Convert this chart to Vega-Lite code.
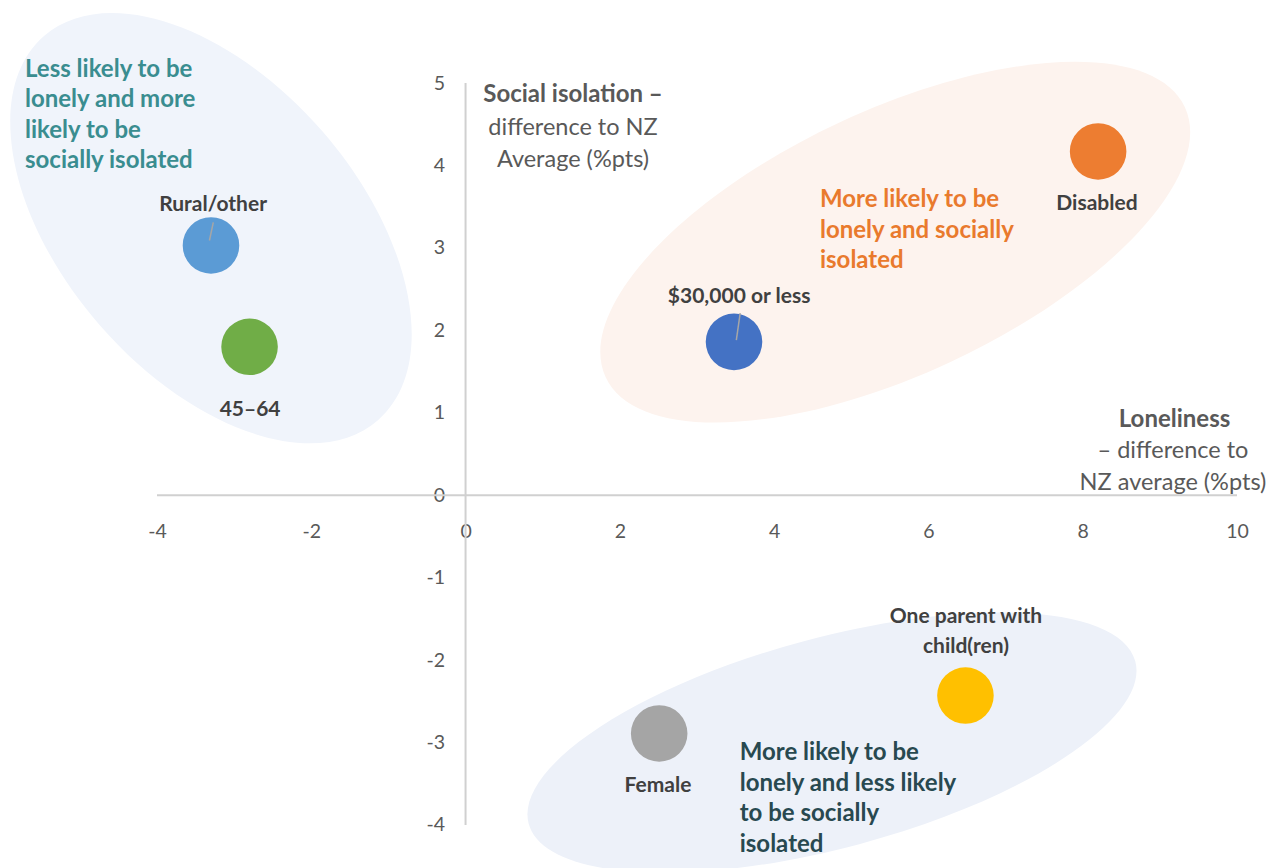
{
  "$schema": "https://vega.github.io/schema/vega-lite/v6.json",
  "width": 1271,
  "height": 868,
  "padding": 0,
  "autosize": {"type": "none"},
  "background": "white",
  "config": {
    "view": {"stroke": null},
    "font": "Lato",
    "axis": {"labelFont": "Lato", "grid": false, "domain": false, "ticks": false, "title": null, "labelFlush": false, "labelOverlap": false, "labelBound": false, "labelColor": "#595959", "labelFontSize": 19.5, "labelExpr": "'' + datum.value"}
  },
  "datasets": {
    "groups": [
      {"label": "Rural/other", "x": -3.30, "y": 3.03},
      {"label": "45–64", "x": -2.80, "y": 1.80},
      {"label": "$30,000 or less", "x": 3.48, "y": 1.86},
      {"label": "Disabled", "x": 8.20, "y": 4.17},
      {"label": "One parent with child(ren)", "x": 6.48, "y": -2.43},
      {"label": "Female", "x": 2.51, "y": -2.89}
    ],
    "zones": [
      {"zone": "A", "x": -3.30, "y": 3.24},
      {"zone": "B", "x": 5.57, "y": 3.07},
      {"zone": "C", "x": 4.75, "y": -3.0}
    ],
    "axislines": [
      {"x": -4, "x2": 10, "y": 0, "y2": 0},
      {"x": 0, "x2": 0, "y": -4, "y2": 5}
    ],
    "leaders": [
      {"x": -3.27, "y": 3.31, "x2": -3.32, "y2": 3.09},
      {"x": 3.56, "y": 2.21, "x2": 3.51, "y2": 1.88}
    ],
    "labels": [
      {"text": "Rural/other", "x": -3.273, "y": 3.451},
      {"text": "45–64", "x": -2.793, "y": 0.961},
      {"text": "$30,000 or less", "x": 3.546, "y": 2.331},
      {"text": "Disabled", "x": 8.185, "y": 3.459},
      {"text": ["One parent with", "child(ren)"], "x": 6.487, "y": -1.551},
      {"text": "Female", "x": 2.494, "y": -3.600}
    ],
    "notes": [
      {"zone": "A", "text": ["Less likely to be", "lonely and more", "likely to be", "socially isolated"], "x": -5.711, "y": 5.073},
      {"zone": "B", "text": ["More likely to be", "lonely and socially", "isolated"], "x": 4.594, "y": 3.496},
      {"zone": "C", "text": ["More likely to be", "lonely and less likely", "to be socially", "isolated"], "x": 3.554, "y": -3.212}
    ],
    "titles": [
      {"text": "Social isolation –", "x": 1.393, "y": 4.773, "w": "bold"},
      {"text": ["difference to NZ", "Average (%pts)"], "x": 1.393, "y": 4.370, "w": "normal"},
      {"text": "Loneliness", "x": 9.19, "y": 0.831, "w": "bold"},
      {"text": ["– difference to", "NZ average (%pts)"], "x": 9.17, "y": 0.451, "w": "normal"}
    ]
  },
  "encoding": {
    "x": {"field": "x", "type": "quantitative", "scale": {"domain": [-6.035, 10.441], "nice": false, "zero": false},
      "axis": {"values": [-4, -2, 0, 2, 4, 6, 8, 10], "orient": "bottom", "offset": {"expr": "scale('y', 0) - height"}, "labelPadding": 27}},
    "y": {"field": "y", "type": "quantitative", "scale": {"domain": [-4.522, 6.007], "nice": false, "zero": false},
      "axis": {"values": [-4, -3, -2, -1, 0, 1, 2, 3, 4, 5], "orient": "left", "offset": {"expr": "-scale('x', 0)"}, "labelPadding": 21}}
  },
  "layer": [
    {
      "data": {"name": "zones"},
      "transform": [{"filter": "datum.zone === 'A'"}],
      "mark": {"type": "point", "filled": true, "opacity": 1, "color": "#f0f4fb", "strokeWidth": 0, "size": 259081, "angle": 49,
        "shape": "M 1 0 C 1 0.3203 0.5523 0.58 0 0.58 C -0.5523 0.58 -1 0.3203 -1 0 C -1 -0.3203 -0.5523 -0.58 0 -0.58 C 0.5523 -0.58 1 -0.3203 1 0 Z"}
    },
    {
      "data": {"name": "zones"},
      "transform": [{"filter": "datum.zone === 'B'"}],
      "mark": {"type": "point", "filled": true, "opacity": 1, "color": "#fdf3ee", "strokeWidth": 0, "size": 408321, "angle": 335,
        "shape": "M 1 0 C 1 0.2281 0.5523 0.413 0 0.413 C -0.5523 0.413 -1 0.2281 -1 0 C -1 -0.2281 -0.5523 -0.413 0 -0.413 C 0.5523 -0.413 1 -0.2281 1 0 Z"}
    },
    {
      "data": {"name": "zones"},
      "transform": [{"filter": "datum.zone === 'C'"}],
      "mark": {"type": "point", "filled": true, "opacity": 1, "color": "#edf1f9", "strokeWidth": 0, "size": 394384, "angle": 345,
        "shape": "M 1 0 C 1 0.185 0.5523 0.335 0 0.335 C -0.5523 0.335 -1 0.185 -1 0 C -1 -0.185 -0.5523 -0.335 0 -0.335 C 0.5523 -0.335 1 -0.185 1 0 Z"}
    },
    {
      "data": {"name": "axislines"},
      "mark": {"type": "rule", "color": "#d0d0d0", "strokeWidth": 2},
      "encoding": {"x2": {"field": "x2"}, "y2": {"field": "y2"}}
    },
    {
      "data": {"name": "groups"},
      "mark": {"type": "circle", "opacity": 1, "size": 3200},
      "encoding": {
        "color": {"field": "label", "type": "nominal", "legend": null,
          "scale": {"domain": ["Rural/other", "45–64", "$30,000 or less", "Disabled", "One parent with child(ren)", "Female"],
            "range": ["#5b9bd5", "#70ad47", "#4472c4", "#ed7d31", "#ffc000", "#a5a5a5"]}}
      }
    },
    {
      "data": {"name": "leaders"},
      "mark": {"type": "rule", "color": "#a6a6a6", "strokeWidth": 1.5},
      "encoding": {"x2": {"field": "x2"}, "y2": {"field": "y2"}}
    },
    {
      "data": {"name": "labels"},
      "mark": {"type": "text", "font": "Lato", "fontWeight": "bold", "fontSize": 21, "color": "#404040", "align": "center", "baseline": "alphabetic", "lineHeight": 30},
      "encoding": {"text": {"field": "text"}}
    },
    {
      "data": {"name": "notes"},
      "transform": [{"filter": "datum.zone === 'A'"}],
      "mark": {"type": "text", "font": "Lato", "fontWeight": "bold", "fontSize": 24, "color": "#3a8d90", "align": "left", "baseline": "alphabetic", "lineHeight": 30.5},
      "encoding": {"text": {"field": "text"}}
    },
    {
      "data": {"name": "notes"},
      "transform": [{"filter": "datum.zone === 'B'"}],
      "mark": {"type": "text", "font": "Lato", "fontWeight": "bold", "fontSize": 24, "color": "#e97a2d", "align": "left", "baseline": "alphabetic", "lineHeight": 30.5},
      "encoding": {"text": {"field": "text"}}
    },
    {
      "data": {"name": "notes"},
      "transform": [{"filter": "datum.zone === 'C'"}],
      "mark": {"type": "text", "font": "Lato", "fontWeight": "bold", "fontSize": 24, "color": "#284950", "align": "left", "baseline": "alphabetic", "lineHeight": 30.5},
      "encoding": {"text": {"field": "text"}}
    },
    {
      "data": {"name": "titles"},
      "transform": [{"filter": "datum.w === 'bold'"}],
      "mark": {"type": "text", "font": "Lato", "fontWeight": "bold", "fontSize": 24, "color": "#595959", "align": "center", "baseline": "alphabetic", "lineHeight": 32},
      "encoding": {"text": {"field": "text"}}
    },
    {
      "data": {"name": "titles"},
      "transform": [{"filter": "datum.w === 'normal'"}],
      "mark": {"type": "text", "font": "Lato", "fontWeight": "normal", "fontSize": 23.5, "color": "#595959", "align": "center", "baseline": "alphabetic", "lineHeight": 32},
      "encoding": {"text": {"field": "text"}}
    }
  ]
}
